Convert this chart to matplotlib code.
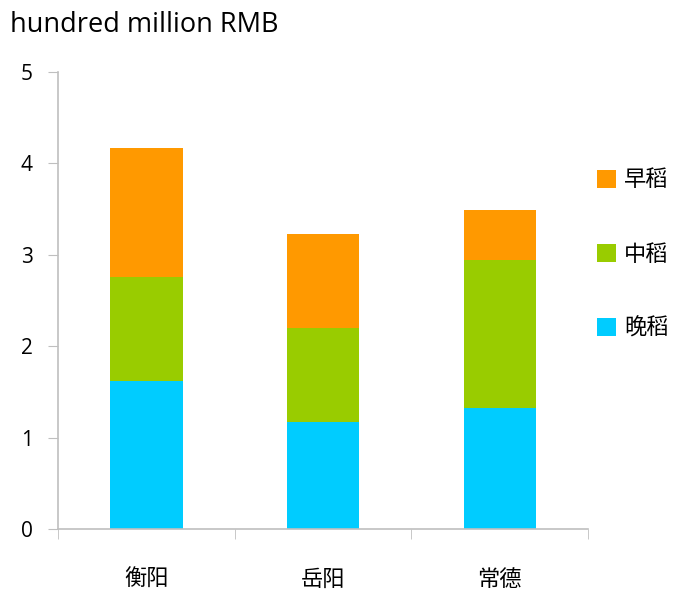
import matplotlib.pyplot as plt
import numpy as np

plt.rcParams['font.family'] = ['Open Sans', 'Noto Sans CJK SC', 'DejaVu Sans']

cities = ['衡阳', '岳阳', '常德']
late = [1.62, 1.17, 1.32]
middle = [1.13, 1.03, 1.62]
early = [1.42, 1.03, 0.55]

c_late = '#00ccff'
c_mid = '#99cc00'
c_early = '#ff9900'
grey = '#bfbfbf'

fig = plt.figure(figsize=(6.78, 5.93), dpi=100)
ax = fig.add_axes([0.0855, 0.108, 0.782, 0.771])

x = np.arange(len(cities))
w = 0.41
b1 = ax.bar(x, late, w, color=c_late, label='晚稻')
b2 = ax.bar(x, middle, w, bottom=late, color=c_mid, label='中稻')
bot = np.array(late) + np.array(middle)
b3 = ax.bar(x, early, w, bottom=bot, color=c_early, label='早稻')

ax.set_xlim(-0.5, 2.5)
ax.set_ylim(0, 5)
ax.set_yticks(range(6))
ax.set_xticks(x)
ax.set_xticklabels(cities, fontfamily=['Noto Sans CJK SC'], fontsize=16)
ax.set_xticks([-0.5, 0.5, 1.5, 2.5], minor=True)
ax.tick_params(axis='x', which='major', length=0, pad=28)
ax.tick_params(axis='x', which='minor', length=7, color=grey, direction='out')
ax.tick_params(axis='y', length=7, color=grey, labelsize=15, pad=11)

for s in ['top', 'right']:
    ax.spines[s].set_visible(False)
for s in ['left', 'bottom']:
    ax.spines[s].set_color(grey)
    ax.spines[s].set_linewidth(1.2)

fig.text(0.015, 0.958, 'hundred million RMB', fontsize=19.5, va='center', ha='left')

leg = fig.legend([b3, b2, b1], ['早稻', '中稻', '晚稻'], loc='upper left',
                 bbox_to_anchor=(0.868, 0.731), frameon=False,
                 prop={'family': 'Noto Sans CJK SC', 'size': 16},
                 handlelength=0.85, handleheight=0.85, handletextpad=0.35,
                 labelspacing=2.3, borderaxespad=0)

fig.savefig('out.png', dpi=100)
